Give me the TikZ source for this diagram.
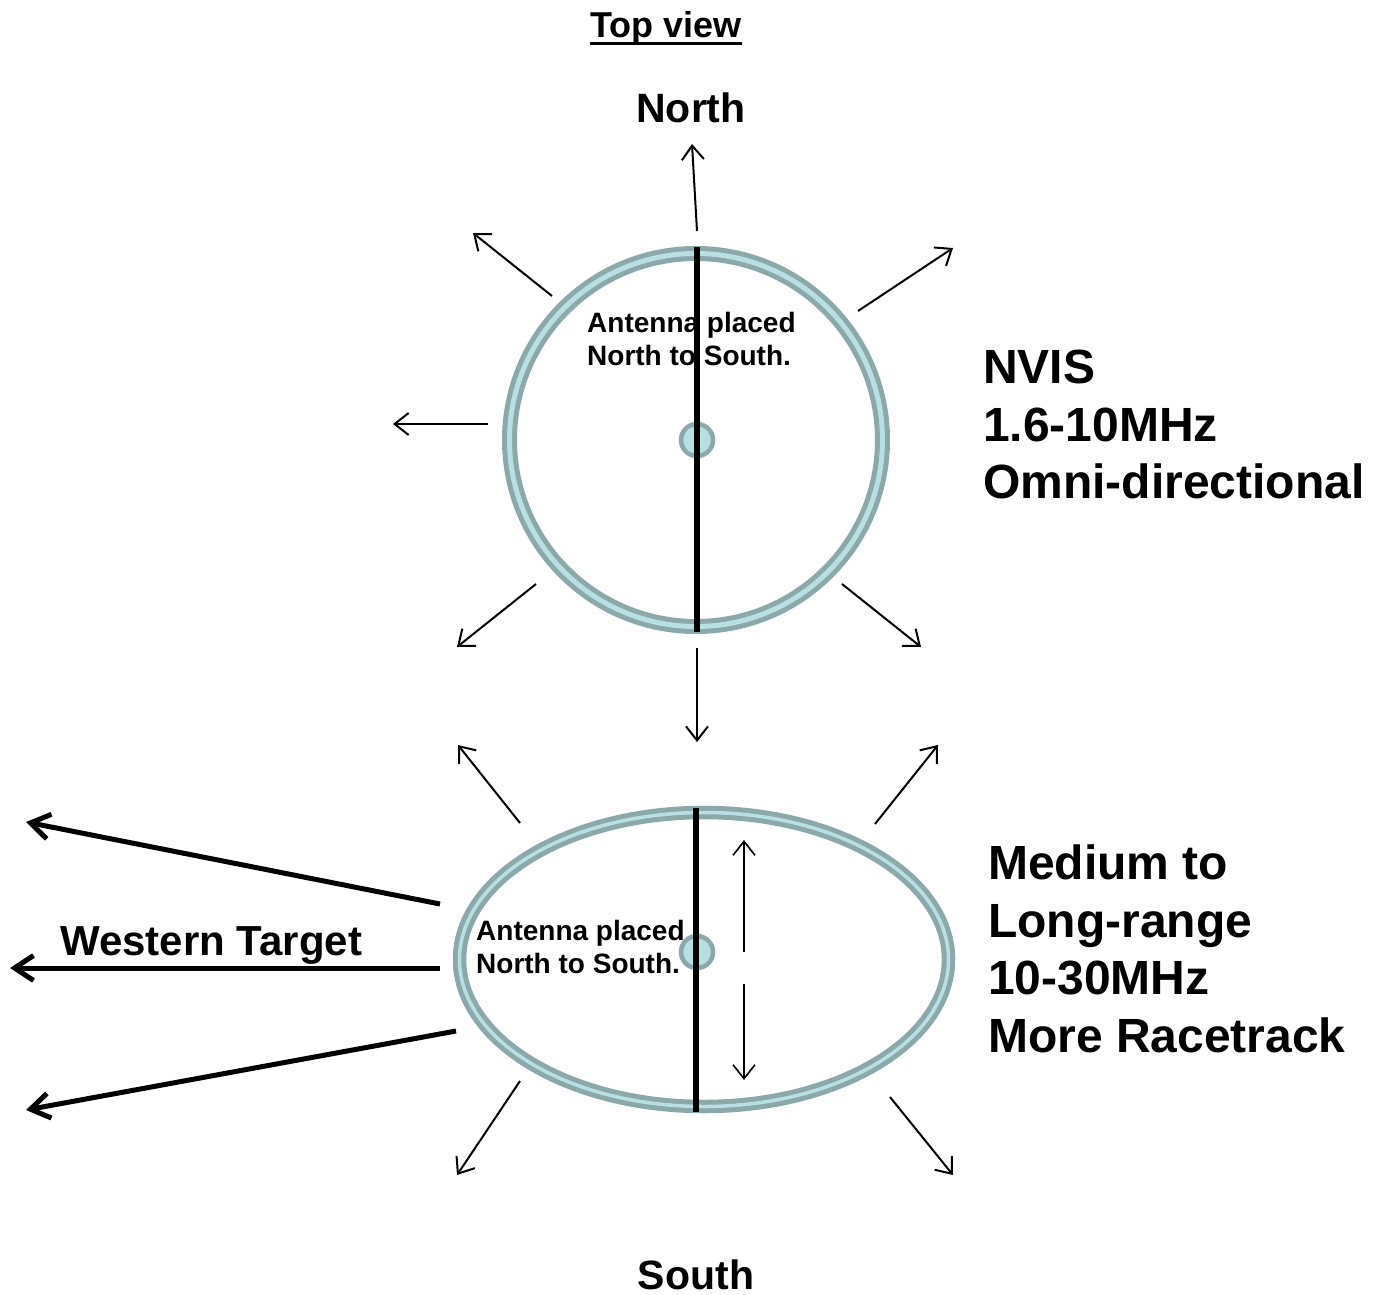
\documentclass[tikz,border=0pt]{standalone}
\usepackage{fontspec}
\setmainfont{Liberation Sans}
\usetikzlibrary{arrows.meta,shapes.geometric}
\definecolor{ringgrey}{RGB}{139,168,170}
\definecolor{ringlight}{RGB}{184,223,226}
\begin{document}
\begin{tikzpicture}[x=1pt,y=-1pt,
  thinarrow/.style={line width=2pt,-{Straight Barb[length=14pt,width=22pt]}},
  thickarrow/.style={line width=5pt,-{Straight Barb[length=19pt,width=25pt]}},
  antenna/.style={line width=6.5pt,black},
  feed/.style={circle,draw=ringgrey,fill=ringlight,line width=4.5pt,minimum size=32pt,inner sep=0pt},
  lbl/.style={inner sep=0pt,font=\bfseries\fontsize{41}{49}\selectfont},
  big/.style={inner sep=0pt,align=left,font=\bfseries\fontsize{48}{57.5}\selectfont},
  small/.style={inner sep=0pt,align=left,font=\bfseries\fontsize{28}{33}\selectfont}]
\useasboundingbox[fill=white] (0,0) rectangle (1377,1295);

% title
\node[inner sep=0pt,font=\bfseries\fontsize{36}{43}\selectfont,anchor=base] (tv) at (666,38) {Top view};
\draw[line width=3pt] ([yshift=-6pt]tv.base west) -- ([yshift=-6pt]tv.base east);
\node[lbl,anchor=base] (north) at (691,123) {North};
\node[lbl,anchor=base] (south) at (696,1289) {South};

% ---------- top circle ----------
\node[circle,draw=ringgrey,double=ringlight,line width=5pt,double distance=5pt,
      minimum size=373pt,inner sep=0pt] (ring1) at (696,440) {};
\node[small,anchor=north west] (t1) at (587,312) {Antenna placed\\North to South.};
\node[feed] (f1) at (697,440) {};
\coordinate (a1n) at (697,247);
\coordinate (a1s) at (697,632);
\draw[antenna] (a1n) -- (a1s);

\coordinate (nT) at (697,231);  \coordinate (nH) at (692,144);
\coordinate (nwT) at (552,296); \coordinate (nwH) at (473,233);
\coordinate (neT) at (858,311); \coordinate (neH) at (953,248);
\coordinate (wT) at (488,424);  \coordinate (wH) at (393,424);
\coordinate (swT) at (536,584); \coordinate (swH) at (457,647);
\coordinate (seT) at (842,584); \coordinate (seH) at (921,647);
\coordinate (sT) at (697,648);  \coordinate (sH) at (697,742);
\foreach \a in {n,nw,ne,w,sw,se,s} \draw[thinarrow] (\a T) -- (\a H);

\node[big,anchor=north west] (nvis) at (983,350) {NVIS\\1.6-10MHz\\Omni-directional};

% ---------- bottom ellipse ----------
\node[ellipse,draw=ringgrey,double=ringlight,line width=5pt,double distance=3.5pt,
      minimum width=489pt,minimum height=294pt,inner sep=0pt] (ring2) at (704,959.5) {};
\node[small,anchor=north west] (t2) at (476,920) {Antenna placed\\North to South.};
\node[feed] (f2) at (697,952) {};
\coordinate (a2n) at (696,808);
\coordinate (a2s) at (696,1112);
\draw[antenna] (a2n) -- (a2s);

\coordinate (upT) at (744,952);  \coordinate (upH) at (744,840);
\coordinate (dnT) at (744,984);  \coordinate (dnH) at (744,1080);
\draw[thinarrow,line width=1.6pt] (upT) -- (upH);
\draw[thinarrow,line width=1.6pt] (dnT) -- (dnH);

\coordinate (enwT) at (520,823);  \coordinate (enwH) at (458,745);
\coordinate (eneT) at (875,824);  \coordinate (eneH) at (938,745);
\coordinate (eswT) at (520,1081); \coordinate (eswH) at (457,1175);
\coordinate (eseT) at (890,1097); \coordinate (eseH) at (953,1175);
\foreach \a in {enw,ene,esw,ese} \draw[thinarrow] (\a T) -- (\a H);

\coordinate (w1T) at (440,904);  \coordinate (w1H) at (26,822);
\coordinate (w2T) at (440,968);  \coordinate (w2H) at (10,968);
\coordinate (w3T) at (456,1031); \coordinate (w3H) at (26,1110);
\foreach \a in {w1,w2,w3} \draw[thickarrow] (\a T) -- (\a H);
\node[lbl,anchor=base west,font=\bfseries\fontsize{42}{50}\selectfont] (wt) at (60,955) {Western Target};

\node[big,anchor=north west] (mlr) at (988,845) {Medium to\\Long-range\\10-30MHz\\More Racetrack};
\end{tikzpicture}
\end{document}
